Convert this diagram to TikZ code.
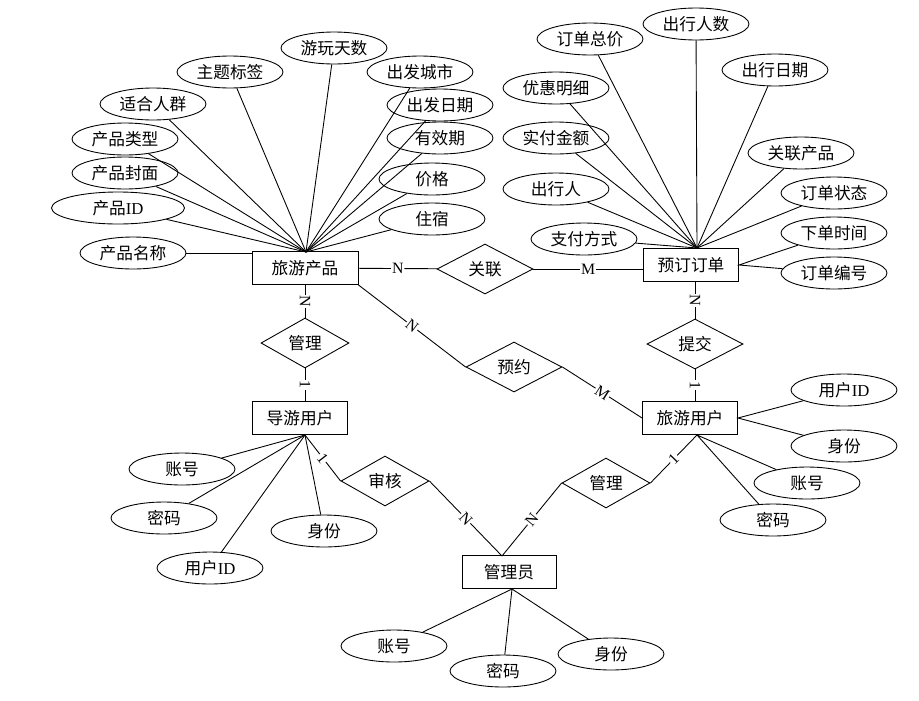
\documentclass[tikz,border=0pt]{standalone}
\usepackage{fontspec}
\setmainfont{Liberation Serif}
\newfontfamily\cjk{Noto Sans CJK SC}
\usepackage{tikz}
\usetikzlibrary{shapes}
\tikzset{
	entity node/.style={rectangle,draw,minimum width=2.12cm,minimum height=0.66cm,inner sep=0pt},
	attr node/.style={ellipse,draw,minimum width=2.12cm,minimum height=0.64cm,inner sep=0pt},
	rel node/.style={diamond,draw,minimum width=1.92cm,minimum height=1cm,inner sep=0pt},
	card/.style={font=\rmfamily\fontsize{9}{9}\selectfont,fill=white,inner sep=0.5pt,sloped}
}

\begin{document}
\begin{tikzpicture}[x=0.02cm,y=-0.02cm,line width=0.5pt,
	    font=\cjk\fontsize{9.5}{11}\selectfont]
	    \useasboundingbox (0,0) rectangle (919,700);
	    % entities
	    \node [entity node] (prod) at (305,268) {旅游产品};
	    \node [entity node,minimum width=1.9cm] (order) at (691,265) {预订订单};
	    \node [entity node,minimum width=1.9cm] (guide) at (300,418) {导游用户};
	    \node [entity node,minimum width=1.9cm] (tourist) at (690,418) {旅游用户};
	    \node [entity node,minimum width=1.88cm] (admin) at (509,572) {管理员};
	    % relations
	    \node [rel node] (link) at (485,269) {关联};
	    \node [rel node,minimum width=1.76cm] (manage1) at (305,343) {管理};
	    \node [rel node] (book) at (514,367) {预约};
	    \node [rel node] (submit) at (695,344) {提交};
	    \node [rel node,minimum width=1.76cm] (audit) at (385,481) {审核};
	    \node [rel node,minimum width=1.76cm] (manage2) at (606,483) {管理};
	    % product attributes
	    \node [attr node] (p1) at (133,253) {产品名称};
	    \node [attr node,minimum width=2.66cm] (p2) at (118,208) {产品{\rmfamily ID}};
	    \node [attr node] (p3) at (125,173) {产品封面};
	    \node [attr node] (p4) at (125,139) {产品类型};
	    \node [attr node] (p5) at (153,104) {适合人群};
	    \node [attr node] (p6) at (230,72) {主题标签};
	    \node [attr node] (p7) at (334,48) {游玩天数};
	    \node [attr node] (p8) at (420,72) {出发城市};
	    \node [attr node] (p9) at (440,105) {出发日期};
	    \node [attr node] (p10) at (440,138) {有效期};
	    \node [attr node] (p11) at (432,179) {价格};
	    \node [attr node] (p12) at (432,219) {住宿};
	    % order attributes
	    \node [attr node] (o1) at (584,239) {支付方式};
	    \node [attr node] (o2) at (556,189) {出行人};
	    \node [attr node] (o3) at (556,138) {实付金额};
	    \node [attr node] (o4) at (556,88) {优惠明细};
	    \node [attr node] (o5) at (590,39) {订单总价};
	    \node [attr node] (o6) at (696,24) {出行人数};
	    \node [attr node] (o7) at (775,70) {出行日期};
	    \node [attr node] (o8) at (801,153) {关联产品};
	    \node [attr node] (o9) at (834,193) {订单状态};
	    \node [attr node] (o10) at (834,233) {下单时间};
	    \node [attr node] (o11) at (834,273) {订单编号};
	    % user attributes
	    \node [attr node] (g1) at (182,469) {账号};
	    \node [attr node] (g2) at (164,518) {密码};
	    \node [attr node] (g3) at (210,568) {用户{\rmfamily ID}};
	    \node [attr node] (g4) at (324,531) {身份};
	    \node [attr node] (t1) at (844,390) {用户{\rmfamily ID}};
	    \node [attr node] (t2) at (844,446) {身份};
	    \node [attr node] (t3) at (807,483) {账号};
	    \node [attr node] (t4) at (773,520) {密码};
	    \node [attr node] (a1) at (394,646) {账号};
	    \node [attr node] (a2) at (503,671) {密码};
	    \node [attr node] (a3) at (611,654) {身份};
	    % attribute lines
	    \coordinate (pc) at (306,252);
	    \coordinate (oc) at (697,248);
	    \coordinate (gc) at (305,435);
	    \coordinate (tc) at (697,435);
	    \coordinate (ac) at (512,589);
	    \coordinate (ad) at (502,556);
	    \foreach \i in {2,...,12} \draw (p\i) -- (pc);
	    \draw (p1) -- (p1 -| prod.west);
	    \foreach \i in {1,...,9} \draw (o\i) -- (oc);
	    \draw (o10) -- (order.east) -- (o11);
	    \foreach \i in {1,...,4} \draw (g\i) -- (gc);
	    \draw (t1) -- (tourist.east) -- (t2);
	    \draw (t3) -- (tc) -- (t4);
	    \foreach \i in {1,...,3} \draw (a\i) -- (ac);
	    % relation lines
	    \draw (prod) -- node[card] {N} (link);
	    \draw (link) -- node[card] {M} (link -| order.west);
	    \draw (manage1.north |- prod.south) -- node[card] {N} (manage1);
	    \draw (manage1) -- node[card] {1} (manage1.south |- guide.north);
	    \draw (prod.south east) -- node[card] {N} (book.west);
	    \draw (book.east) -- node[card] {M} (tourist.west);
	    \draw (submit.north |- order.south) -- node[card] {N} (submit);
	    \draw (submit) -- node[card] {1} (submit.south |- tourist.north);
	    \draw (gc) -- node[card] {1} (audit.west);
	    \draw (audit.east) -- node[card] {N} (ad);
	    \draw (ad) -- node[card] {N} (manage2.west);
	    \draw (manage2.east) -- node[card] {1} (tc);
	  \end{tikzpicture}
\end{document}
